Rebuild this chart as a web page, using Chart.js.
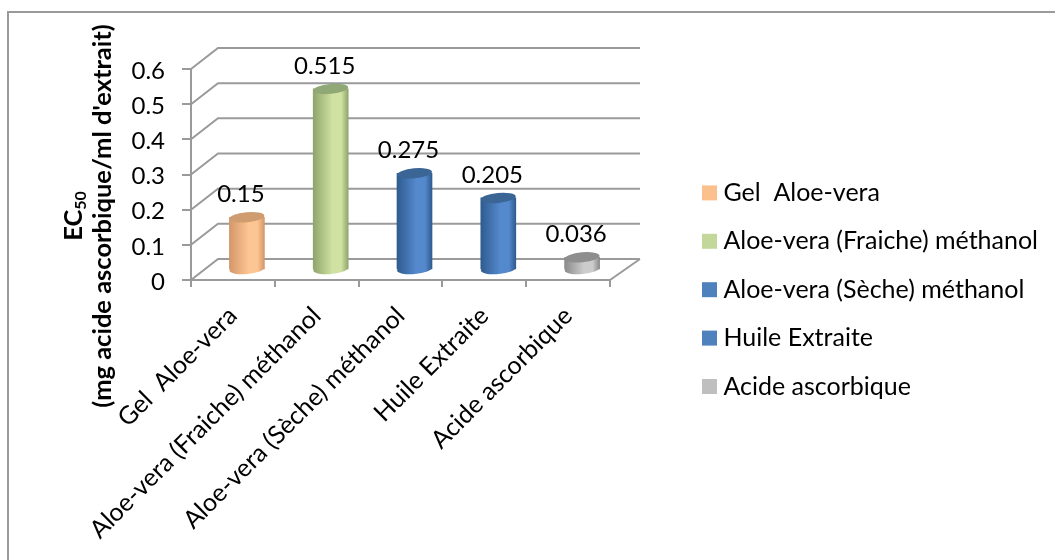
<!DOCTYPE html>
<html>
<head>
<meta charset="utf-8">
<title>EC50</title>
<script src="https://cdn.jsdelivr.net/npm/chart.js@4"></script>
<style>
  html, body { margin: 0; padding: 0; background: #fff; }
  canvas { display: block; }
</style>
</head>
<body>
<canvas id="chart" width="1055" height="560"></canvas>
<script>
const categories = [
  'Gel  Aloe-vera',
  'Aloe-vera (Fraiche) méthanol',
  'Aloe-vera (Sèche) méthanol',
  'Huile Extraite',
  'Acide ascorbique'
]
const ec50Values = [0.15, 0.515, 0.275, 0.205, 0.036]
const yTicks = [0, 0.1, 0.2, 0.3, 0.4, 0.5, 0.6]

const legendColors = ['#fcc08c', '#c4d79b', '#4f81bd', '#4f81bd', '#bfbfbf']
const edgeColors = ['#d4976a', '#8fa56c', '#2f5b8f', '#2f5b8f', '#8a8a8a']
const lightColors = ['#fdc592', '#d0e2a2', '#5489cd', '#5489cd', '#cccccc']
const capColors = ['#cf9c70', '#8fa876', '#3a6595', '#3a6595', '#8e8e8e']

const FONT = 'Lato, "Open Sans", sans-serif'
const GRID = '#9a9a9a'

// floor depth of the fake 3D box, bars stand half way into it
const depthY = 21
const barShiftX = 14
const barShiftY = 10
const barWidth = 35

const legendFontSize = 25
const legendPadding = 23.4

const cylinderFill = (chart, i) => {
  const x = chart.scales.x.getPixelForValue(i)
  const g = chart.ctx.createLinearGradient(x - barWidth / 2, 0, x + barWidth / 2, 0)
  g.addColorStop(0, edgeColors[i])
  g.addColorStop(0.55, lightColors[i])
  g.addColorStop(0.8, lightColors[i])
  g.addColorStop(1, edgeColors[i])
  return g
}

const ellipse = (ctx, x, y, w, fill) => {
  ctx.beginPath()
  ctx.ellipse(x, y, w / 2, 5, -0.09, 0, Math.PI * 2)
  ctx.fillStyle = fill
  ctx.fill()
}

// walls and floor behind the bars, plus the outer frame
const boxPlugin = {
  id: 'box',
  beforeDraw: (chart) => {
    const ctx = chart.ctx
    ctx.save()
    ctx.strokeStyle = GRID
    ctx.lineWidth = 2
    ctx.beginPath()
    ctx.moveTo(8, 560)
    ctx.lineTo(8, 12)
    ctx.lineTo(1055, 12)
    ctx.stroke()
    ctx.restore()
  },
  beforeDatasetsDraw: (chart) => {
    const ctx = chart.ctx
    const { left, right, bottom } = chart.chartArea
    ctx.save()
    ctx.strokeStyle = GRID
    ctx.lineWidth = 2
    ctx.beginPath()
    yTicks.forEach((v) => {
      const y = chart.scales.y.getPixelForValue(v)
      ctx.moveTo(left, y)
      ctx.lineTo(left + 27, y - depthY)
      ctx.lineTo(right + 30, y - depthY)
    })
    ctx.moveTo(right, bottom)
    ctx.lineTo(right + 30, bottom - depthY)
    ctx.stroke()
    ctx.restore()
  }
}

// turns the flat bars into cylinders: shifted into the box, with end caps
const cylinderPlugin = {
  id: 'cylinder',
  beforeDatasetDraw: (chart, args) => {
    const ctx = chart.ctx
    ctx.save()
    ctx.translate(barShiftX, -barShiftY)
    args.meta.data.forEach((bar, i) => {
      ellipse(ctx, bar.x, bar.base, barWidth, cylinderFill(chart, i))
    })
  },
  afterDatasetDraw: (chart, args) => {
    const ctx = chart.ctx
    args.meta.data.forEach((bar, i) => {
      ellipse(ctx, bar.x, bar.y, barWidth, capColors[i])
    })
    ctx.restore()
  }
}

const valueLabelPlugin = {
  id: 'valueLabels',
  afterDatasetsDraw: (chart) => {
    const ctx = chart.ctx
    const bars = chart.getDatasetMeta(0).data
    ctx.save()
    ctx.font = '24px ' + FONT
    ctx.fillStyle = '#000'
    ctx.textAlign = 'center'
    ctx.textBaseline = 'middle'
    bars.forEach((bar, i) => {
      ctx.fillText(String(ec50Values[i]), bar.x + 8, bar.y - 33)
    })
    ctx.restore()
  }
}

// axis title by hand because of the subscript in EC50
const yTitlePlugin = {
  id: 'yTitle',
  afterDraw: (chart) => {
    const ctx = chart.ctx
    ctx.save()
    ctx.fillStyle = '#000'
    ctx.textBaseline = 'middle'
    ctx.translate(0, 216)
    ctx.rotate(-Math.PI / 2)
    ctx.textAlign = 'left'
    ctx.font = 'bold 25.5px ' + FONT
    const main = ctx.measureText('EC').width
    ctx.font = 'bold 16px ' + FONT
    const sub = ctx.measureText('50').width
    const start = -(main + sub) / 2
    ctx.font = 'bold 25.5px ' + FONT
    ctx.fillText('EC', start, 74)
    ctx.font = 'bold 16px ' + FONT
    ctx.fillText('50', start + main, 81)
    ctx.font = 'bold 25.5px ' + FONT
    ctx.textAlign = 'center'
    ctx.fillText("(mg acide ascorbique/ml d'extrait)", 0, 103)
    ctx.restore()
  }
}

// the legend sits right of the plot, outside the area the layout gave it.
// the library only writes its text, the swatches go closer to the text here
const legendPlacePlugin = {
  id: 'legendPlace',
  afterLayout: (chart) => {
    const legend = chart.legend
    legend.left = 687.5
    legend.right = 1055
    legend.top = 157
    legend.bottom = 445
    legend.width = 367.5
    legend.height = 288
  },
  afterDraw: (chart) => {
    const ctx = chart.ctx
    const firstRow = chart.legend.top + legendPadding
    categories.forEach((name, i) => {
      const y = firstRow + i * (legendFontSize + legendPadding)
      ctx.fillStyle = legendColors[i]
      ctx.fillRect(702, y + 5, 15, 15)
    })
  }
}

new Chart('chart', {
  type: 'bar',
  data: {
    labels: categories,
    datasets: [{
      data: ec50Values,
      barThickness: barWidth,
      borderWidth: 0,
      clip: false,
      backgroundColor: (c) => c.chart.chartArea ? cylinderFill(c.chart, c.dataIndex) : legendColors[c.dataIndex]
    }]
  },
  plugins: [boxPlugin, cylinderPlugin, valueLabelPlugin, yTitlePlugin, legendPlacePlugin],
  options: {
    responsive: false,
    animation: false,
    layout: { padding: { top: 69, right: 445, bottom: 0, left: 0 } },
    plugins: {
      tooltip: { enabled: false },
      legend: {
        position: 'chartArea',
        align: 'start',
        labels: {
          color: '#000',
          font: { family: FONT, size: legendFontSize },
          boxWidth: 0,
          padding: legendPadding,
          generateLabels: () => categories.map((name, i) => ({
            text: name,
            fillStyle: legendColors[i],
            strokeStyle: legendColors[i],
            lineWidth: 0,
            index: i
          }))
        }
      }
    },
    scales: {
      x: {
        afterFit: (scale) => { scale.height = 280 },
        border: { color: GRID, width: 2 },
        grid: { offset: true, drawOnChartArea: false, color: GRID, lineWidth: 2, tickLength: 7 },
        ticks: {
          autoSkip: false,
          minRotation: 45,
          maxRotation: 45,
          color: '#000',
          padding: 14,
          font: { family: FONT, size: 25 }
        }
      },
      y: {
        min: 0,
        max: 0.6,
        afterFit: (scale) => { scale.width = 191 },
        afterBuildTicks: (scale) => { scale.ticks = yTicks.map((value) => ({ value })) },
        border: { color: GRID, width: 2 },
        grid: { drawOnChartArea: false, color: GRID, lineWidth: 2, tickLength: 9 },
        ticks: {
          color: '#000',
          padding: 17,
          labelOffset: 2,
          font: { family: FONT, size: 24 }
        }
      }
    }
  }
})
</script>
</body>
</html>
